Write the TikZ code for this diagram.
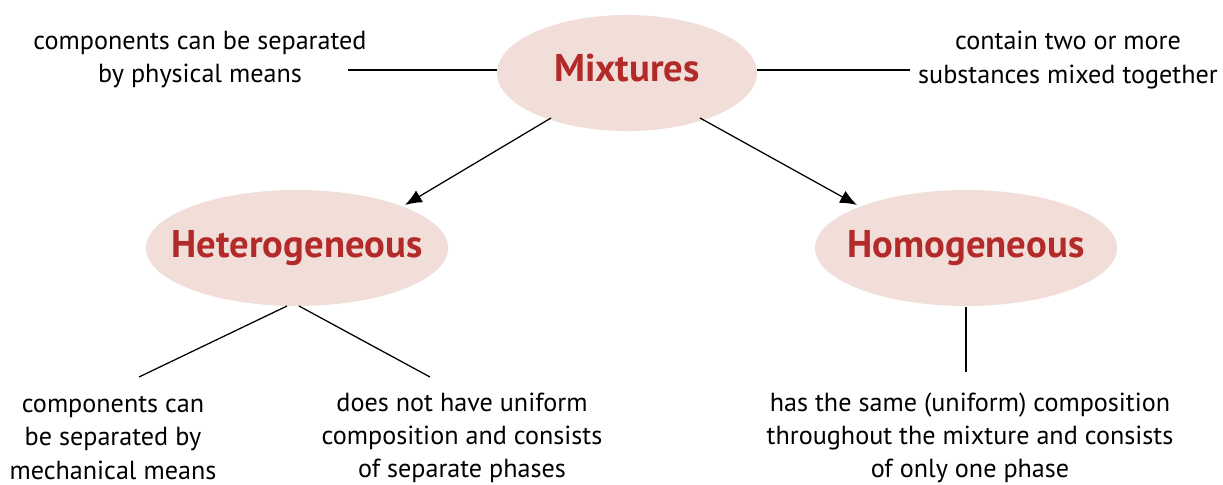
\documentclass[tikz,border=0pt]{standalone}
\usepackage{fontspec}
\setmainfont{PT Sans}
\usepackage{xcolor}
\usetikzlibrary{arrows.meta, positioning, shapes.geometric}

\definecolor{blobfill}{HTML}{F2DED8}
\definecolor{titlered}{HTML}{B22A2A}

\begin{document}
\begin{tikzpicture}[
    x=0.025cm, y=-0.025cm,
    >={Latex[width=3.4mm, length=4.2mm]},
    every node/.style={font=\fontsize{18.6}{23.5}\selectfont, align=center},
    blob/.style={ellipse, fill=blobfill, minimum width=#1, minimum height=2.9cm, inner sep=0pt},
    title/.style={text=titlered, font=\fontsize{27.5}{32}\selectfont\bfseries},
    link/.style={black, line width=0.9pt},
]
\useasboundingbox (0,0) rectangle (1223,485);

% Ellipses
\node[blob=6.5cm] (mix) at (627,73) {};
\node[blob=7.55cm] (het) at (297,248) {};
\node[blob=7.55cm] (hom) at (966,248) {};
\node[title] (mixtxt) at ([yshift=0.12cm]mix.center) {Mixtures};
\node[title] (hettxt) at (het) {Heterogeneous};
\node[title] (homtxt) at (hom) {Homogeneous};

% Descriptions at the top
\node (phys) at (200,60) {components can be separated\\by physical means};
\node (subst) at (1068,60) {contain two or more\\substances mixed together};
\coordinate (physend) at (348,70);
\coordinate (substend) at (910,70);
\draw[link] (physend) -- (mix.west |- physend);
\draw[link] (mix.east |- substend) -- (substend);

% Arrows to the two kinds
\coordinate (mixl) at (551,118);
\coordinate (mixr) at (700,118);
\coordinate (hetin) at (405,205);
\coordinate (homin) at (857,205);
\draw[link, ->] (mixl) -- (hetin);
\draw[link, ->] (mixr) -- (homin);

% Heterogeneous descriptions
\node (mech) at (113,438) {components can\\be separated by\\mechanical means};
\node (phases) at (462,438) {does not have uniform\\composition and consists\\of separate phases};
\coordinate (hetl) at (287,306);
\coordinate (hetr) at (299,306);
\coordinate (mechend) at (139,377);
\coordinate (phasesend) at (430,377);
\draw[link] (hetl) -- (mechend);
\draw[link] (hetr) -- (phasesend);

% Homogeneous description
\node (uniform) at (970,438) {has the same (uniform) composition\\throughout the mixture and consists\\of only one phase};
\coordinate (homout) at (966,307);
\coordinate (uniformend) at (966,372);
\draw[link] (homout) -- (uniformend);

\end{tikzpicture}
\end{document}
